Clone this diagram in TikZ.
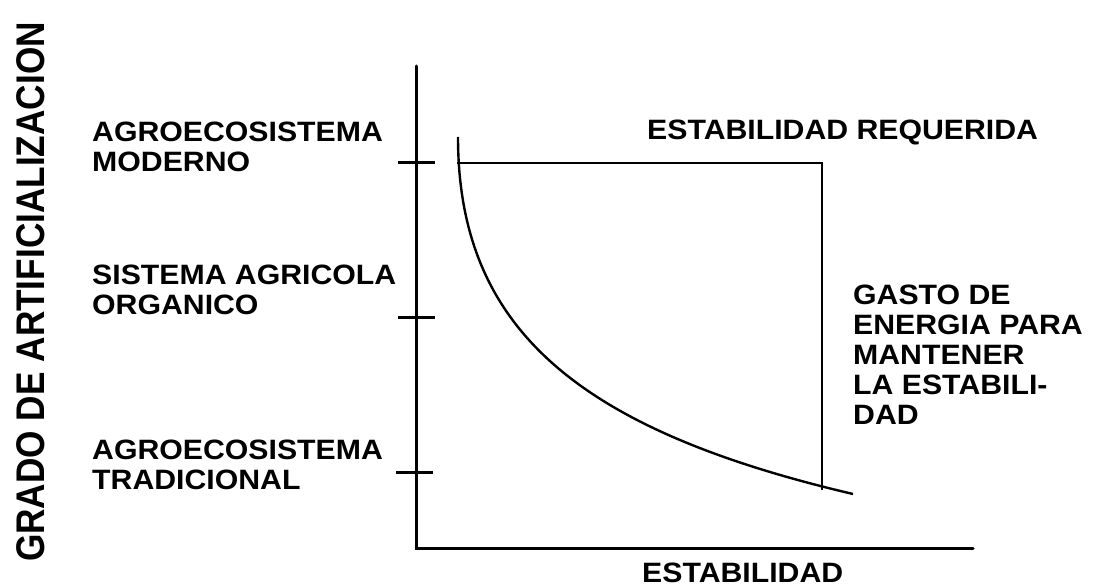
\documentclass[tikz,border=0pt]{standalone}
\usepackage{fontspec}
\newfontfamily\labfont{Liberation Sans}[FakeStretch=1.08]
\newfontfamily\ylabfont{Liberation Sans}[FakeStretch=0.88]
\begin{document}
\begin{tikzpicture}[x=1pt,y=-1pt,
  axis/.style={line width=3pt},
  thin/.style={line width=2.4pt},
  lbl/.style={anchor=north west,inner sep=0pt,align=left,
    font=\labfont\bfseries\fontsize{28}{30}\selectfont},
  ylbl/.style={inner sep=0pt,rotate=90,font=\ylabfont\bfseries\fontsize{40}{40}\selectfont}]
\useasboundingbox (0,0) rectangle (1098,588);
% axes
\coordinate (ytop) at (416,66);
\coordinate (orig) at (416,548);
\coordinate (xend) at (973,548);
\draw[axis,line cap=round] (ytop) -- (orig) -- (xend);
% ticks
\coordinate (t1a) at (398,163); \coordinate (t1b) at (435,163);
\coordinate (t2a) at (398,317); \coordinate (t2b) at (435,317);
\coordinate (t3a) at (396,472); \coordinate (t3b) at (433,472);
\draw[axis] (t1a) -- (t1b);
\draw[axis] (t2a) -- (t2b);
\draw[axis] (t3a) -- (t3b);
% required stability line
\coordinate (rA) at (457,163);
\coordinate (rB) at (822,163);
\coordinate (rC) at (822,490);
\draw[thin] (rA) -- (rB) -- (rC);
% curve
\coordinate (cS) at (458,137);
\coordinate (cE) at (853,494);
\draw[thin] (cS) .. controls (458,330) and (580,430) .. (cE);
% labels
\node[lbl] (mod) at (92,122) {AGROECOSISTEMA\\MODERNO};
\node[lbl] (org) at (92,265) {SISTEMA AGRICOLA\\ORGANICO};
\node[lbl] (trad) at (92,440) {AGROECOSISTEMA\\TRADICIONAL};
\node[lbl] (req) at (647,120) {ESTABILIDAD REQUERIDA};
\node[lbl] (gasto) at (853,285) {GASTO DE\\ENERGIA PARA\\MANTENER\\LA ESTABILI-\\DAD};
\node[lbl] (xl) at (642,563) {ESTABILIDAD};
\node[ylbl] (yl) at (31,292) {GRADO DE ARTIFICIALIZACION};
\end{tikzpicture}
\end{document}
